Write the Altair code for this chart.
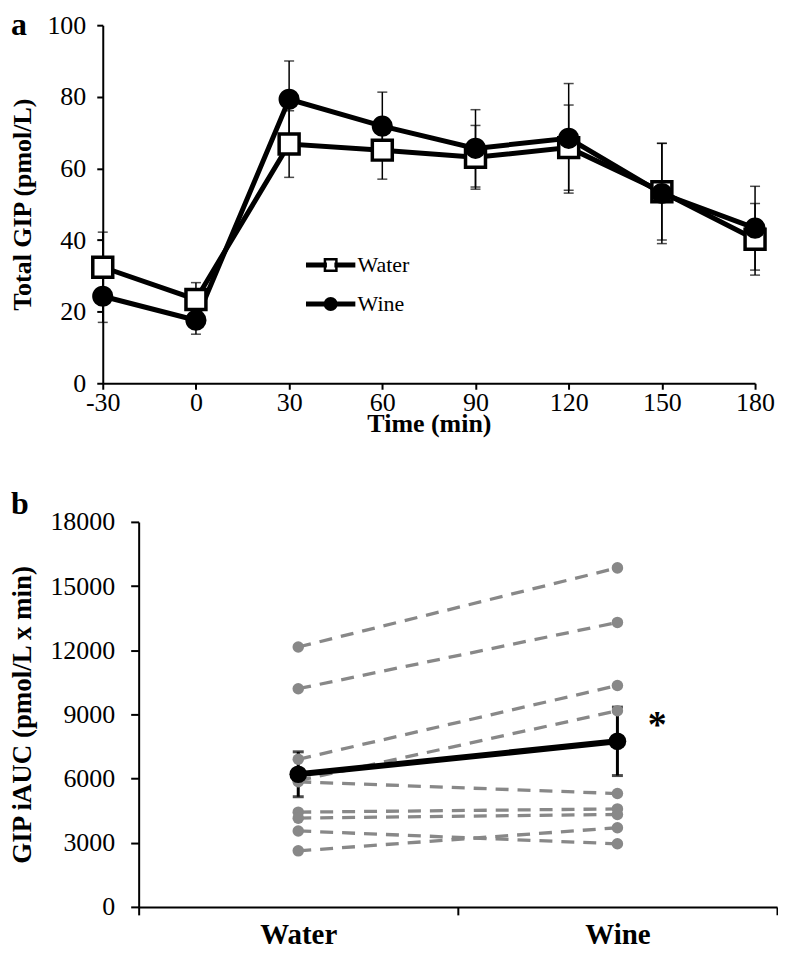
import altair as alt
import pandas as pd

FONT = "Liberation Serif"
GRAY = "#888888"

# ---------------- panel a : total GIP over time ----------------
time_min = [-30, 0, 30, 60, 90, 120, 150, 180]
water_gip = [32.4, 23.4, 66.8, 65.1, 63.1, 65.8, 53.5, 40.2]
water_gip_sem = [9.8, 4.7, 9.3, 8.1, 8.9, 11.9, 13.5, 10.0]
wine_gip = [24.3, 17.6, 79.3, 71.8, 65.6, 68.4, 53.0, 43.3]
wine_gip_sem = [7.3, 3.9, 10.7, 9.5, 10.8, 15.3, 14.0, 11.7]
groups = ["Water", "Wine"]
time_ticks = [-30, 0, 30, 60, 90, 120, 150, 180]
gip_ticks = [0, 20, 40, 60, 80, 100]

# ---------------- panel b : GIP iAUC per subject ----------------
subject_ids = [1, 2, 3, 4, 5, 6, 7, 8, 9]
water_auc = [12150, 10200, 6900, 5900, 5850, 4430, 4150, 3550, 2620]
wine_auc = [15850, 13300, 10350, 9170, 5300, 4580, 4320, 2950, 3700]
auc_mean = [6200, 7740]
auc_sem = [1050, 1600]
auc_ticks = [0, 3000, 6000, 9000, 12000, 15000, 18000]
sig_label = ["", "*"]

# ---------------- tables ----------------
rows_a = []
for name, vals, errs in [("Water", water_gip, water_gip_sem), ("Wine", wine_gip, wine_gip_sem)]:
    for t, v, e in zip(time_min, vals, errs):
        rows_a.append({"series": name, "time": t, "gip": v, "lo": v - e, "hi": v + e})
df_a = pd.DataFrame(rows_a)

rows_b = []
for sid, w, v in zip(subject_ids, water_auc, wine_auc):
    rows_b.append({"subject": sid, "condition": "Water", "auc": w})
    rows_b.append({"subject": sid, "condition": "Wine", "auc": v})
df_b = pd.DataFrame(rows_b)

df_m = pd.DataFrame({
    "condition": groups,
    "auc": auc_mean,
    "lo": [m - s for m, s in zip(auc_mean, auc_sem)],
    "hi": [m + s for m, s in zip(auc_mean, auc_sem)],
    "sig": sig_label,
})
df_sig = df_m[df_m["sig"] != ""]

# ---------------- panel a ----------------
W_A, H_A = 654, 359
xa_scale = alt.Scale(domain=[-30, 180], nice=False, zero=False)
ya_scale = alt.Scale(domain=[0, 100], nice=False)
xa_axis = alt.Axis(values=time_ticks, labelExpr="'' + datum.value", title="Time (min)",
                   titleFontSize=26, titleFontWeight="bold", titleBaseline="top", titleY=27,
                   labelFontSize=26, labelPadding=0, tickSize=6,
                   domainWidth=2, tickWidth=2, labelFlush=False)
ya_axis = alt.Axis(values=gip_ticks, title="Total GIP (pmol/L)", titleFontSize=26, titleFontWeight="bold",
                   titleBaseline="bottom", titleX=-67,
                   labelFontSize=26, labelPadding=11, tickSize=6,
                   domainWidth=2, tickWidth=2)

def xa(field):
    return alt.X(field, type="quantitative", scale=xa_scale, axis=xa_axis)

def ya(field):
    return alt.Y(field, type="quantitative", scale=ya_scale, axis=ya_axis)

base_a = alt.Chart(df_a)
err_a = base_a.mark_rule(color="black", strokeWidth=1.5).encode(x=xa("time"), y=ya("lo"), y2="hi")
cap_lo_a = base_a.mark_tick(color="black", orient="horizontal", size=10, thickness=1.5).encode(x=xa("time"), y=ya("lo"))
cap_hi_a = base_a.mark_tick(color="black", orient="horizontal", size=10, thickness=1.5).encode(x=xa("time"), y=ya("hi"))
lines_a = base_a.mark_line(color="black", strokeWidth=5).encode(x=xa("time"), y=ya("gip"), detail="series:N")

water_pts = alt.Chart(df_a[df_a["series"] == "Water"]).mark_point(
    shape="square", filled=True, fill="white", stroke="black", strokeWidth=3.5, size=400, opacity=1
).encode(x=xa("time"), y=ya("gip"))
wine_pts = alt.Chart(df_a[df_a["series"] == "Wine"]).mark_point(
    shape="circle", filled=True, fill="black", stroke="black", strokeWidth=3.5, size=314, opacity=1
).encode(x=xa("time"), y=ya("gip"))

# legend symbols: line with marker in the middle (custom paths)
PATH_WATER = ("M-2.35,-0.125H-0.5V0.125H-2.35Z M0.5,-0.125H2.35V0.125H0.5Z "
              "M-0.575,-0.575H0.575V0.575H-0.575Z")
PATH_WINE = ("M-2.35,-0.125H-0.5V0.125H-2.35Z M0.5,-0.125H2.35V0.125H0.5Z "
             "M-0.575,0A0.575,0.575 0 1,1 0.575,0A0.575,0.575 0 1,1 -0.575,0Z")

def legend_a():
    return alt.Legend(
        title=None, orient="none", legendX=217, legendY=229, padding=0,
        symbolSize=400, symbolStrokeWidth=2.5, symbolStrokeColor="black", symbolOpacity=1,
        labelFont=FONT, labelFontSize=22, labelColor="black", labelOffset=15.5, rowPadding=16,
    )

legend_layer = alt.Chart(pd.DataFrame({"entry": groups})).mark_point(
    filled=True, opacity=1
).encode(
    x=alt.value(0), y=alt.value(0), size=alt.value(0),
    shape=alt.Shape("entry:N", scale=alt.Scale(domain=groups, range=[PATH_WATER, PATH_WINE]), legend=legend_a()),
    fill=alt.Fill("entry:N", scale=alt.Scale(domain=groups, range=["white", "black"]), legend=legend_a()),
    stroke=alt.Stroke("entry:N", scale=alt.Scale(domain=groups, range=["black", "black"]), legend=legend_a()),
)

letter_a = alt.Chart(pd.DataFrame({"t": ["a"]})).mark_text(
    font=FONT, fontSize=32, fontWeight="bold", align="left", baseline="top", color="black"
).encode(x=alt.value(-92), y=alt.value(-15), text="t:N")

panel_a = alt.layer(err_a, cap_lo_a, cap_hi_a, lines_a, water_pts, wine_pts, legend_layer, letter_a).properties(
    width=W_A, height=H_A)

# ---------------- panel b ----------------
W_B, H_B = 676, 386
xb_scale = alt.Scale(type="band", domain=groups, range=[36, 676], paddingInner=0, paddingOuter=0)
yb_scale = alt.Scale(domain=[0, 18000], nice=False)
xb_axis = alt.Axis(title=None, tickBand="extent", labelAngle=0, labelFontSize=29, labelFontWeight="bold",
                   labelPadding=6, tickSize=8, domainWidth=2, tickWidth=2)
yb_axis = alt.Axis(values=auc_ticks, format="d", title="GIP iAUC (pmol/L x min)", titleFontSize=27,
                   titleFontWeight="bold", titleBaseline="bottom", titleX=-102,
                   labelFontSize=26, labelPadding=16, tickSize=8,
                   domainWidth=2, tickWidth=2, offset=-36)

def xb():
    return alt.X("condition:N", scale=xb_scale, axis=xb_axis, sort=groups, bandPosition=0.5)

def yb(field):
    return alt.Y(field, type="quantitative", scale=yb_scale, axis=yb_axis)

base_m = alt.Chart(df_m)
err_b = base_m.mark_rule(color="black", strokeWidth=3).encode(x=xb(), y=yb("lo"), y2="hi")
cap_lo_b = base_m.mark_tick(color="black", orient="horizontal", size=11, thickness=3).encode(x=xb(), y=yb("lo"))
cap_hi_b = base_m.mark_tick(color="black", orient="horizontal", size=11, thickness=3).encode(x=xb(), y=yb("hi"))
sub_lines = alt.Chart(df_b).mark_line(color=GRAY, strokeWidth=3.3, strokeDash=[13, 9]).encode(
    x=xb(), y=yb("auc"), detail="subject:N")
sub_pts = alt.Chart(df_b).mark_circle(color=GRAY, size=133, opacity=1).encode(x=xb(), y=yb("auc"))
mean_line = base_m.mark_line(color="black", strokeWidth=6).encode(x=xb(), y=yb("auc"))
mean_pts = base_m.mark_circle(color="black", size=314, opacity=1).encode(x=xb(), y=yb("auc"))
star = alt.Chart(df_sig).mark_text(font=FONT, fontSize=38, fontWeight="bold", align="center",
                                   baseline="alphabetic", dx=40, dy=-4, color="black").encode(
    x=xb(), y=yb("auc"), text="sig:N")
letter_b = alt.Chart(pd.DataFrame({"t": ["b"]})).mark_text(
    font=FONT, fontSize=32, fontWeight="bold", align="left", baseline="top", color="black"
).encode(x=alt.value(-92), y=alt.value(-33), text="t:N")

panel_b = alt.layer(err_b, cap_lo_b, cap_hi_b, sub_lines, sub_pts, mean_line, mean_pts, star, letter_b).properties(
    width=W_B, height=H_B)

chart = alt.vconcat(panel_a, panel_b, spacing=52).properties(
    background="white", padding={"left": 0, "top": 0, "right": 0, "bottom": 0}
).configure_view(stroke=None).configure_axis(
    domainColor="black", tickColor="black", labelColor="black", titleColor="black", grid=False,
    labelFont=FONT, titleFont=FONT
)

chart.save("out.html", embed_options={"renderer": "svg", "actions": False})
